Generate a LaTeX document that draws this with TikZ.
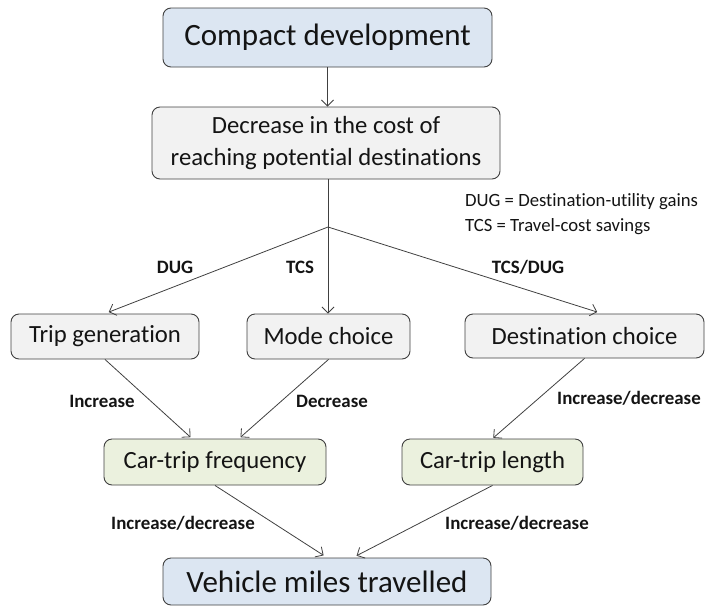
\documentclass[tikz,border=0pt]{standalone}
\usepackage{fontspec}
\setmainfont{Carlito}[Ligatures={NoCommon}]
\usetikzlibrary{arrows.meta}
\definecolor{bluefill}{RGB}{220,230,242}
\definecolor{grayfill}{RGB}{242,242,242}
\definecolor{greenfill}{RGB}{235,241,222}
\definecolor{edgegray}{RGB}{64,64,64}
\definecolor{txt}{RGB}{20,20,20}
\tikzset{
  box/.style={draw=edgegray, line width=0.9pt, rounded corners=8pt, inner sep=0pt, align=center, text=txt},
  bigbox/.style={box, fill=bluefill, font=\fontsize{31}{37}\selectfont},
  midbox/.style={box, fill=grayfill, font=\fontsize{24.7}{32}\selectfont},
  greenbox/.style={box, fill=greenfill, font=\fontsize{24.7}{32}\selectfont},
  conn/.style={draw=edgegray, line width=0.8pt},
  arr/.style={conn, -{Straight Barb[length=6pt,width=12pt,line width=0.8pt]}},
  lbl/.style={font=\fontsize{18.9}{22}\selectfont\bfseries, text=txt, inner sep=0pt},
  legend/.style={font=\fontsize{18.7}{22}\selectfont, text=txt, inner sep=0pt, anchor=west}
}
\begin{document}
\begin{tikzpicture}[x=1pt,y=-1pt]
\useasboundingbox (0,0) rectangle (705,606);
% boxes
\node[bigbox, minimum width=329pt, minimum height=59pt] (cd) at (327.5,37.5) {Compact development};
\node[midbox, minimum width=348pt, minimum height=72pt] (dec) at (326,143) {Decrease in the cost of\\reaching potential destinations};
\node[midbox, minimum width=188pt, minimum height=45pt] (tg) at (105,336.5) {Trip generation};
\node[midbox, minimum width=163pt, minimum height=45pt] (mc) at (328.5,336.5) {Mode choice};
\node[midbox, minimum width=239pt, minimum height=44pt] (dc) at (584.5,336) {Destination choice};
\node[greenbox, minimum width=222pt, minimum height=46pt] (cf) at (215,462) {Car-trip frequency};
\node[greenbox, minimum width=181pt, minimum height=46pt] (cl) at (492.5,462) {Car-trip length};
\node[bigbox, minimum width=328pt, minimum height=47pt] (vmt) at (327,581.5) {Vehicle miles travelled};
% legend
\node[legend] (leg1) at (465,202) {DUG = Destination-utility gains};
\node[legend] (leg2) at (465,227) {TCS = Travel-cost savings};
% junction
\coordinate (J) at (328,227);
% connectors
\draw[arr] (cd.south) -- (cd.south |- dec.north);
\draw[conn] (J |- dec.south) -- (J);
\draw[arr, shorten >=4pt] (J) -- (tg.north);
\draw[arr] (J) -- (J |- mc.north);
\draw[arr, shorten >=5pt] (J) -- ([xshift=17.5pt]dc.north);
\draw[arr, shorten >=2pt] (tg.south) -- ([xshift=-23pt]cf.north);
\draw[arr, shorten >=2pt] (mc.south) -- ([xshift=24pt]cf.north);
\draw[arr, shorten >=1pt] (dc.south) -- (cl.north);
\draw[arr, shorten >=4pt] (cf.south) -- (vmt.north);
\draw[arr, shorten >=4pt] (cl.south) -- ([xshift=26pt]vmt.north);
% labels
\node[lbl] (l1) at (175,267) {DUG};
\node[lbl] (l2) at (300,267) {TCS};
\node[lbl] (l3) at (528,267) {TCS/DUG};
\node[lbl] (l4) at (102,401) {Increase};
\node[lbl] (l5) at (332,401) {Decrease};
\node[lbl] (l6) at (629,398) {Increase/decrease};
\node[lbl] (l7) at (183,523) {Increase/decrease};
\node[lbl] (l8) at (517,523) {Increase/decrease};
\end{tikzpicture}
\end{document}
